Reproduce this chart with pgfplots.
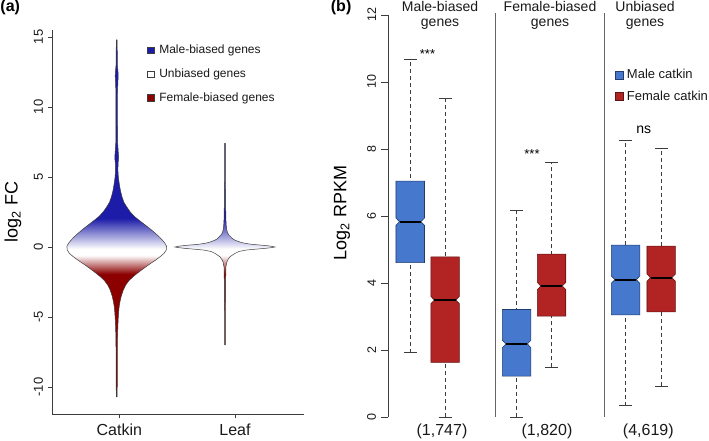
\documentclass[border=0pt]{standalone}
\usepackage{fontspec}
\setmainfont{Liberation Sans}
\setsansfont{Liberation Sans}
\usepackage{pgfplots}
\usepackage{pgfplotstable}
\pgfplotsset{compat=1.18}

\newcommand{\fsz}[1]{\fontsize{#1}{#1}\selectfont}

\definecolor{vblue}{RGB}{28,28,168}
\definecolor{vred}{RGB}{140,0,0}
\definecolor{bblue}{RGB}{70,120,205}
\definecolor{bred}{RGB}{178,36,36}
\definecolor{bbluedk}{RGB}{35,60,110}
\definecolor{breddk}{RGB}{95,20,20}
\definecolor{axgray}{RGB}{60,60,60}

% vertical shadings: 25bp = bottom of violin, 75bp = top of violin
\pgfdeclareverticalshading{catk}{100bp}{color(0bp)=(vred); color(42.19bp)=(vred); color(44.82bp)=(white); color(45.70bp)=(white); color(50bp)=(vblue); color(100bp)=(vblue)}
\pgfdeclareverticalshading{leafsh}{100bp}{color(0bp)=(vred); color(42.59bp)=(vred); color(47.24bp)=(white); color(48.79bp)=(white); color(56.38bp)=(vblue); color(100bp)=(vblue)}

% violin outlines: y, signed half-width
\pgfplotstableread{
y h
14.8 0.003
14.0 0.005
13.0 0.006
12.5 0.012
12.2 0.014
11.8 0.011
11.0 0.007
9.0 0.007
7.5 0.008
6.7 0.015
6.4 0.018
6.0 0.013
5.5 0.011
5.0 0.015
4.54 0.023
4.0 0.035
3.58 0.049
3.2 0.066
2.87 0.092
2.5 0.125
2.16 0.166
1.92 0.205
1.68 0.245
1.44 0.285
1.21 0.322
0.97 0.358
0.73 0.392
0.49 0.422
0.26 0.446
0.05 0.460
-0.2 0.458
-0.45 0.438
-0.70 0.400
-0.95 0.357
-1.17 0.314
-1.40 0.272
-1.65 0.228
-1.90 0.186
-2.13 0.150
-2.40 0.113
-2.72 0.083
-3.08 0.060
-3.5 0.042
-3.91 0.030
-4.3 0.022
-4.62 0.018
-5.1 0.014
-5.57 0.011
-6.5 0.007
-8.0 0.006
-10.0 0.005
-10.7 0.003
-10.7 -0.003
-10.0 -0.005
-8.0 -0.006
-6.5 -0.007
-5.57 -0.011
-5.1 -0.014
-4.62 -0.018
-4.3 -0.022
-3.91 -0.030
-3.5 -0.042
-3.08 -0.060
-2.72 -0.083
-2.40 -0.113
-2.13 -0.150
-1.90 -0.186
-1.65 -0.228
-1.40 -0.272
-1.17 -0.314
-0.95 -0.357
-0.70 -0.400
-0.45 -0.438
-0.2 -0.458
0.05 -0.460
0.26 -0.446
0.49 -0.422
0.73 -0.392
0.97 -0.358
1.21 -0.322
1.44 -0.285
1.68 -0.245
1.92 -0.205
2.16 -0.166
2.5 -0.125
2.87 -0.092
3.2 -0.066
3.58 -0.049
4.0 -0.035
4.54 -0.023
5.0 -0.015
5.5 -0.011
6.0 -0.013
6.4 -0.018
6.7 -0.015
7.5 -0.008
9.0 -0.007
11.0 -0.007
11.8 -0.011
12.2 -0.014
12.5 -0.012
13.0 -0.006
14.0 -0.005
14.8 -0.003
}\catkin

\pgfplotstableread{
y h
7.4 0.003
5.0 0.004
3.0 0.006
1.92 0.009
1.5 0.012
1.21 0.017
1.0 0.025
0.85 0.037
0.6 0.069
0.49 0.092
0.35 0.139
0.26 0.185
0.18 0.259
0.13 0.342
0.06 0.425
0.0 0.462
-0.05 0.425
-0.1 0.369
-0.16 0.277
-0.22 0.194
-0.32 0.129
-0.46 0.092
-0.70 0.046
-0.9 0.028
-1.06 0.018
-1.41 0.009
-2.5 0.006
-5.0 0.004
-7.0 0.003
-7.0 -0.003
-5.0 -0.004
-2.5 -0.006
-1.41 -0.009
-1.06 -0.018
-0.9 -0.028
-0.70 -0.046
-0.46 -0.092
-0.32 -0.129
-0.22 -0.194
-0.16 -0.277
-0.1 -0.369
-0.05 -0.425
0.0 -0.462
0.06 -0.425
0.13 -0.342
0.18 -0.259
0.26 -0.185
0.35 -0.139
0.49 -0.092
0.6 -0.069
0.85 -0.037
1.0 -0.025
1.21 -0.017
1.5 -0.012
1.92 -0.009
3.0 -0.006
5.0 -0.004
7.4 -0.003
}\leaf

\begin{document}
\begin{tikzpicture}[x=1pt,y=1pt]
\coordinate (pa) at (52.3,26.7);
\coordinate (pb) at (388,24);

%================ panel (a) ================
\begin{axis}[
  at={(pa)}, anchor=south west,
  width=251.7pt, height=384.3pt, scale only axis,
  xmin=0.405, xmax=2.73, ymin=-11.95, ymax=15.5,
  axis x line*=bottom, axis y line*=left,
  axis line style={axgray, line width=0.6pt},
  /pgf/number format/assume math mode=true,
  xtick={1.024,2.092}, xticklabels={Catkin,Leaf},
  ytick={-10,-5,0,5,10,15},
  tick align=outside,
  major tick length=4pt,
  tick style={axgray, line width=0.6pt},
  xticklabel style={font=\fsz{16}, inner sep=0pt, yshift=-5pt, text=black!90},
  yticklabel style={font=\fsz{13}, xshift=-5pt, rotate=90, anchor=south, inner sep=0pt, text=black!90},
  ylabel={log\textsubscript{2} FC},
  ylabel style={at={(axis description cs:-0.156,0.526)}, anchor=center, font=\fsz{18}},
  clip=false,
  legend style={at={(0.377,0.966)}, anchor=north west, draw=none, fill=none,
     inner sep=0pt, row sep=9.5pt, column sep=3pt, font=\fsz{12},
     nodes={inner sep=2pt, text=black!90}},
  legend cell align=left,
]
\addplot[forget plot, shade, shading=catk, draw=axgray, line width=0.5pt]
  table[x expr=1+\thisrow{h}, y=y]{\catkin} --cycle;
\addplot[forget plot, shade, shading=leafsh, draw=axgray, line width=0.5pt]
  table[x expr=2+\thisrow{h}, y=y]{\leaf} --cycle;

\addlegendimage{legend image code/.code={\draw[fill=vblue, draw=axgray, line width=0.4pt] (0pt,-3.2pt) rectangle (6.5pt,3.2pt);}}
\addlegendentry{Male-biased genes}
\addlegendimage{legend image code/.code={\draw[fill=white, draw=axgray, line width=0.4pt] (0pt,-3.2pt) rectangle (6.5pt,3.2pt);}}
\addlegendentry{Unbiased genes}
\addlegendimage{legend image code/.code={\draw[fill=vred, draw=axgray, line width=0.4pt] (0pt,-3.2pt) rectangle (6.5pt,3.2pt);}}
\addlegendentry{Female-biased genes}
\end{axis}

%================ panel (b) ================
\begin{axis}[
  at={(pb)}, anchor=south west,
  width=321pt, height=402pt, scale only axis,
  xmin=0.376, xmax=9.393, ymin=0, ymax=12,
  axis x line=none, axis y line*=left,
  axis line style={axgray, line width=0.6pt},
  /pgf/number format/assume math mode=true,
  ytick={0,2,4,6,8,10,12},
  tick align=outside,
  major tick length=6.7pt,
  tick style={axgray, line width=0.6pt},
  yticklabel style={font=\fsz{12.5}, xshift=-5pt, rotate=90, anchor=south, inner sep=0pt, text=black!90},
  ylabel={Log\textsubscript{2} RPKM},
  ylabel style={at={(axis description cs:-0.143,0.507)}, anchor=center, font=\fsz{18}},
  clip=false,
  legend style={at={(0.708,0.870)}, anchor=north west, draw=none, fill=none,
     inner sep=0pt, row sep=6.5pt, column sep=1pt, font=\fsz{13},
     nodes={inner sep=2pt, text=black!90}},
  legend cell align=left,
]
% whiskers (dashed, drawn behind boxes)
\addplot[forget plot, axgray, line width=0.6pt, dash pattern=on 4pt off 3pt] coordinates {(1,1.92) (1,10.68)};
\addplot[forget plot, axgray, line width=0.6pt, dash pattern=on 4pt off 3pt] coordinates {(1.98,0.0) (1.98,9.50)};
\addplot[forget plot, axgray, line width=0.6pt, dash pattern=on 4pt off 3pt] coordinates {(3.99,0.0) (3.99,6.18)};
\addplot[forget plot, axgray, line width=0.6pt, dash pattern=on 4pt off 3pt] coordinates {(4.97,1.48) (4.97,7.61)};
\addplot[forget plot, axgray, line width=0.6pt, dash pattern=on 4pt off 3pt] coordinates {(7.05,0.34) (7.05,8.26)};
\addplot[forget plot, axgray, line width=0.6pt, dash pattern=on 4pt off 3pt] coordinates {(8.05,0.93) (8.05,8.02)};
% whisker caps
\addplot[forget plot, axgray, line width=0.6pt] coordinates {(0.82,1.92) (1.18,1.92)};
\addplot[forget plot, axgray, line width=0.6pt] coordinates {(0.82,10.68) (1.18,10.68)};
\addplot[forget plot, axgray, line width=0.6pt] coordinates {(1.80,0.0) (2.16,0.0)};
\addplot[forget plot, axgray, line width=0.6pt] coordinates {(1.80,9.50) (2.16,9.50)};
\addplot[forget plot, axgray, line width=0.6pt] coordinates {(3.81,0.0) (4.17,0.0)};
\addplot[forget plot, axgray, line width=0.6pt] coordinates {(3.81,6.18) (4.17,6.18)};
\addplot[forget plot, axgray, line width=0.6pt] coordinates {(4.79,1.48) (5.15,1.48)};
\addplot[forget plot, axgray, line width=0.6pt] coordinates {(4.79,7.61) (5.15,7.61)};
\addplot[forget plot, axgray, line width=0.6pt] coordinates {(6.87,0.34) (7.23,0.34)};
\addplot[forget plot, axgray, line width=0.6pt] coordinates {(6.87,8.26) (7.23,8.26)};
\addplot[forget plot, axgray, line width=0.6pt] coordinates {(7.87,0.93) (8.23,0.93)};
\addplot[forget plot, axgray, line width=0.6pt] coordinates {(7.87,8.02) (8.23,8.02)};
% notched boxes
\addplot[forget plot, fill=bblue, draw=bbluedk, line width=0.6pt] coordinates {(0.6,4.61) (1.4,4.61) (1.4,5.72) (1.3,5.83) (1.4,5.94) (1.4,7.04) (0.6,7.04) (0.6,5.94) (0.7,5.83) (0.6,5.72)} --cycle;
\addplot[forget plot, fill=bred, draw=breddk, line width=0.6pt] coordinates {(1.58,1.63) (2.38,1.63) (2.38,3.38) (2.28,3.49) (2.38,3.60) (2.38,4.78) (1.58,4.78) (1.58,3.60) (1.68,3.49) (1.58,3.38)} --cycle;
\addplot[forget plot, fill=bblue, draw=bbluedk, line width=0.6pt] coordinates {(3.59,1.22) (4.39,1.22) (4.39,2.07) (4.29,2.18) (4.39,2.29) (4.39,3.21) (3.59,3.21) (3.59,2.29) (3.69,2.18) (3.59,2.07)} --cycle;
\addplot[forget plot, fill=bred, draw=breddk, line width=0.6pt] coordinates {(4.57,3.01) (5.37,3.01) (5.37,3.80) (5.27,3.91) (5.37,4.02) (5.37,4.86) (4.57,4.86) (4.57,4.02) (4.67,3.91) (4.57,3.80)} --cycle;
\addplot[forget plot, fill=bblue, draw=bbluedk, line width=0.6pt] coordinates {(6.65,3.05) (7.45,3.05) (7.45,3.99) (7.35,4.10) (7.45,4.21) (7.45,5.13) (6.65,5.13) (6.65,4.21) (6.75,4.10) (6.65,3.99)} --cycle;
\addplot[forget plot, fill=bred, draw=breddk, line width=0.6pt] coordinates {(7.65,3.14) (8.45,3.14) (8.45,4.05) (8.35,4.16) (8.45,4.27) (8.45,5.10) (7.65,5.10) (7.65,4.27) (7.75,4.16) (7.65,4.05)} --cycle;
% medians
\addplot[forget plot, black, line width=2pt] coordinates {(0.7,5.83) (1.3,5.83)};
\addplot[forget plot, black, line width=2pt] coordinates {(1.68,3.49) (2.28,3.49)};
\addplot[forget plot, black, line width=2pt] coordinates {(3.69,2.18) (4.29,2.18)};
\addplot[forget plot, black, line width=2pt] coordinates {(4.67,3.91) (5.27,3.91)};
\addplot[forget plot, black, line width=2pt] coordinates {(6.75,4.10) (7.35,4.10)};
\addplot[forget plot, black, line width=2pt] coordinates {(7.75,4.16) (8.35,4.16)};
% group separators
\draw[black!60, line width=0.7pt] (axis cs:3.38,0) -- (axis cs:3.38,12.05);
\draw[black!60, line width=0.7pt] (axis cs:6.44,0) -- (axis cs:6.44,12.05);

\addlegendimage{legend image code/.code={\draw[fill=bblue, draw=bbluedk, line width=0.5pt] (0pt,-4pt) rectangle (8pt,4pt);}}
\addlegendentry{Male catkin}
\addlegendimage{legend image code/.code={\draw[fill=bred, draw=breddk, line width=0.5pt] (0pt,-4pt) rectangle (8pt,4pt);}}
\addlegendentry{Female catkin}
\end{axis}

%================ annotations ================
\node[anchor=base west, inner sep=0pt, font=\bfseries\fsz{16}] at (0.3,429.4) {(a)};
\node[anchor=base west, inner sep=0pt, font=\bfseries\fsz{16}] at (330.7,429.4) {(b)};

\node[anchor=base, inner sep=0pt, font=\fsz{14}, text=black!90] at (440,429.3) {Male-biased};
\node[anchor=base, inner sep=0pt, font=\fsz{14}, text=black!90] at (440,414.3) {genes};
\node[anchor=base, inner sep=0pt, font=\fsz{14}, text=black!90] at (550,429.3) {Female-biased};
\node[anchor=base, inner sep=0pt, font=\fsz{14}, text=black!90] at (550,414.3) {genes};
\node[anchor=base, inner sep=0pt, font=\fsz{14}, text=black!90] at (645,429.3) {Unbiased};
\node[anchor=base, inner sep=0pt, font=\fsz{14}, text=black!90] at (645,414.3) {genes};

\node[anchor=base, inner sep=0pt, font=\fsz{13}] at (427.5,382.5) {***};
\node[anchor=base, inner sep=0pt, font=\fsz{13}] at (532,282.6) {***};
\node[anchor=base, inner sep=0pt, font=\fsz{14}] at (643.7,307) {ns};

\node[anchor=base, inner sep=0pt, font=\fsz{16}, text=black!90] at (442,5.1) {(1,747)};
\node[anchor=base, inner sep=0pt, font=\fsz{16}, text=black!90] at (547,5.1) {(1,820)};
\node[anchor=base, inner sep=0pt, font=\fsz{16}, text=black!90] at (648.3,5.1) {(4,619)};

\pgfresetboundingbox
\useasboundingbox (0,0) rectangle (709,441);
\end{tikzpicture}
\end{document}
